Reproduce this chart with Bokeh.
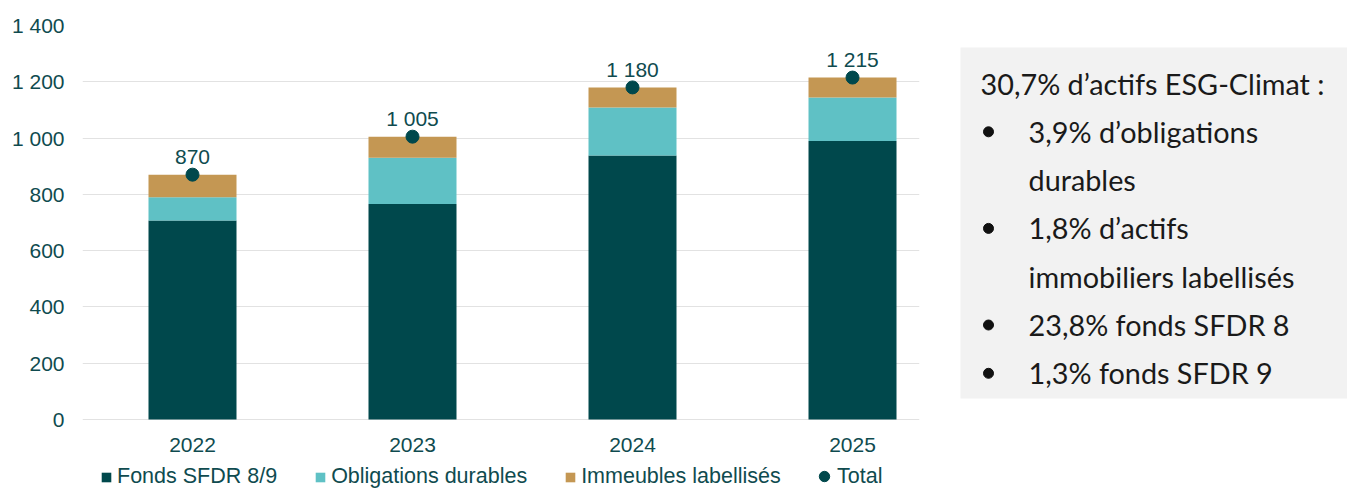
from bokeh.plotting import figure
from bokeh.layouts import row
from bokeh.models import Range1d, FixedTicker, Legend, LegendItem, ColumnDataSource
from bokeh.core.properties import value
from bokeh.embed import file_html
from bokeh.resources import INLINE

# ---- data ----
years = ["2022", "2023", "2024", "2025"]
fonds_sfdr = [707, 766, 938, 990]
obligations = [83, 164, 171, 154]
immeubles = [80, 75, 71, 71]
totals = [870, 1005, 1180, 1215]
y_ticks = [0, 200, 400, 600, 800, 1000, 1200, 1400]
series_names = ["Fonds SFDR 8/9", "Obligations durables", "Immeubles labellisés", "Total"]

box_header = "30,7% d’actifs ESG-Climat :"
box_bullets = [
    ["3,9% d’obligations", "durables"],
    ["1,8% d’actifs", "immobiliers labellisés"],
    ["23,8% fonds SFDR 8"],
    ["1,3% fonds SFDR 9"],
]

# ---- styles ----
DARK = "#00484C"
LIGHT = "#5FC1C5"
TAN = "#C49753"
TXT = "#0F4B4F"
FONT = value("Liberation Sans")

H = 489
TOP = 25
ZERO_PX = 419          # page y of value 0
Y_MAX = 1400
units_per_px = Y_MAX / (ZERO_PX - TOP)
y_start = -(H - ZERO_PX) * units_per_px


def fmt(v):
    return f"{v:,}".replace(",", " ")


xs = list(range(len(years)))
src = ColumnDataSource(dict(
    x=xs, fonds=fonds_sfdr, oblig=obligations, imm=immeubles,
    total=totals, label=[fmt(t) for t in totals],
))

p = figure(width=940, height=H, output_backend="svg", toolbar_location=None,
           x_range=Range1d(-0.5, 3.3045), y_range=Range1d(y_start, Y_MAX),
           min_border_left=82, min_border_right=21, min_border_top=TOP, min_border_bottom=0)
p.outline_line_color = None
p.background_fill_color = "white"
p.border_fill_color = "white"

bars = p.vbar_stack(["fonds", "oblig", "imm"], x="x", width=0.4, source=src,
                    color=[DARK, LIGHT, TAN], line_color=None)
dots = p.scatter("x", "total", size=13, color=DARK, source=src)
p.text("x", "total", text="label", source=src, text_align="center", text_baseline="alphabetic",
       y_offset=-18, text_font=FONT, text_font_size="21px", text_color=TXT)

p.xgrid.visible = False
p.ygrid.grid_line_color = "#E2E2E2"
p.ygrid.grid_line_width = 1
p.yaxis.ticker = FixedTicker(ticks=y_ticks)
p.ygrid.ticker = FixedTicker(ticks=y_ticks)
p.yaxis.major_label_overrides = {t: fmt(t) for t in y_ticks}
p.xaxis.ticker = FixedTicker(ticks=xs)
p.xaxis.major_label_overrides = {i: y for i, y in enumerate(years)}
p.xaxis.fixed_location = 0
for ax in (p.xaxis, p.yaxis):
    ax.axis_line_color = None
    ax.major_tick_line_color = None
    ax.minor_tick_line_color = None
    ax.major_tick_out = 0
    ax.major_tick_in = 0
    ax.major_label_text_font = "Liberation Sans"
    ax.major_label_text_font_size = "21px"
    ax.major_label_text_color = TXT
p.yaxis.major_label_standoff = 18
p.xaxis.major_label_standoff = 18

legend_style = dict(orientation="horizontal", padding=0, margin=0,
                    label_text_font="Liberation Sans", label_text_font_size="21.5px",
                    label_text_color=TXT, border_line_color=None, background_fill_alpha=0)
legend_bars = Legend(items=[
    LegendItem(label=series_names[0], renderers=[bars[0]]),
    LegendItem(label=series_names[1], renderers=[bars[1]]),
    LegendItem(label=series_names[2], renderers=[bars[2]]),
], location=(18, 0), spacing=37, glyph_width=12, glyph_height=12, label_standoff=5,
    **legend_style)
legend_total = Legend(items=[
    LegendItem(label=series_names[3], renderers=[dots]),
], location=(729, 0), glyph_width=26, glyph_height=26, label_standoff=0, **legend_style)
p.add_layout(legend_bars)
p.add_layout(legend_total)

# ---- right text box (data coords = page pixels) ----
q = figure(width=407, height=H, output_backend="svg", toolbar_location=None,
           x_range=Range1d(940, 1347), y_range=Range1d(H, TOP),
           min_border_left=0, min_border_right=0, min_border_top=TOP, min_border_bottom=0)
q.background_fill_color = "white"
q.border_fill_color = "white"
q.outline_line_color = None
q.axis.visible = False
q.grid.visible = False
q.quad(left=960, right=1347, top=47, bottom=398, fill_color="#F2F2F2", line_color=None)

TFONT = value("Lato")
first_y, step = 83, 48.3
tx, ty = [980], [first_y]
lines = [box_header]
bx, by = [], []
i = 1
for b in box_bullets:
    bx.append(988)
    by.append(first_y + i * step)
    for ln in b:
        lines.append(ln)
        tx.append(1028)
        ty.append(first_y + i * step)
        i += 1
q.text(tx, ty, text=lines, text_font=TFONT, text_font_size="28.8px", text_color="#1A1A1A",
       text_baseline="middle", text_align="left")
q.scatter(bx, by, size=10, color="#111111")

layout = row(p, q)
open("out.html", "w").write(file_html(layout, INLINE))
